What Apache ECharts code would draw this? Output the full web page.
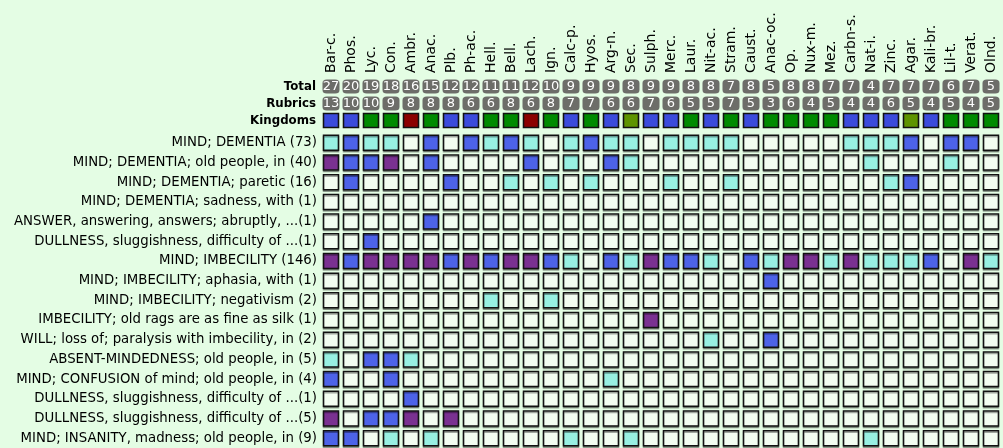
<!DOCTYPE html>
<html>
<head>
<meta charset="utf-8">
<script src="https://cdn.jsdelivr.net/npm/echarts@6/dist/echarts.min.js"></script>
<style>
html,body{margin:0;padding:0;background:#e4fde4;}
#chart{width:1003px;height:448px;}
</style>
</head>
<body>
<div id="chart"></div>
<script>
const remedies = ["Bar-c.","Phos.","Lyc.","Con.","Ambr.","Anac.","Plb.","Ph-ac.","Hell.","Bell.","Lach.","Ign.","Calc-p.","Hyos.","Arg-n.","Sec.","Sulph.","Merc.","Laur.","Nit-ac.","Stram.","Caust.","Anac-oc.","Op.","Nux-m.","Mez.","Carbn-s.","Nat-i.","Zinc.","Agar.","Kali-br.","Lil-t.","Verat.","Olnd."];
const totals = [27,20,19,18,16,15,12,12,11,11,12,10,9,9,9,8,9,9,8,8,7,8,5,8,8,7,7,4,7,7,7,6,7,5];
const rubricCounts = [13,10,10,9,8,8,8,6,6,8,6,8,7,7,6,6,7,6,5,5,7,5,3,6,4,5,4,4,6,5,4,5,4,5];
const kingdoms = ["M","M","P","P","A","P","M","M","P","P","A","P","M","P","M","F","M","M","P","M","P","M","P","P","P","P","M","M","M","F","M","P","P","P"];
const headerRows = ["Total","Rubrics","Kingdoms"];
const rubrics = [
"MIND; DEMENTIA (73)",
"MIND; DEMENTIA; old people, in (40)",
"MIND; DEMENTIA; paretic (16)",
"MIND; DEMENTIA; sadness, with (1)",
"ANSWER, answering, answers; abruptly, ...(1)",
"DULLNESS, sluggishness, difficulty of ...(1)",
"MIND; IMBECILITY (146)",
"MIND; IMBECILITY; aphasia, with (1)",
"MIND; IMBECILITY; negativism (2)",
"IMBECILITY; old rags are as fine as silk (1)",
"WILL; loss of; paralysis with imbecility, in (2)",
"ABSENT-MINDEDNESS; old people, in (5)",
"MIND; CONFUSION of mind; old people, in (4)",
"DULLNESS, sluggishness, difficulty of ...(1)",
"DULLNESS, sluggishness, difficulty of ...(5)",
"MIND; INSANITY, madness; old people, in (9)"
];
// grade per rubric row (0 none, 1, 2, 3) for each remedy column
const grades = [
[1,2,1,1,0,2,0,2,1,2,1,0,1,2,1,1,0,1,1,1,1,0,0,0,0,0,1,1,1,2,0,2,2,0],
[3,2,2,3,0,2,0,0,0,0,2,0,1,0,2,1,0,0,0,0,0,0,0,0,0,0,0,1,0,0,0,1,0,0],
[0,2,0,0,0,0,2,0,0,1,0,1,0,1,0,0,0,1,0,0,1,0,0,0,0,0,0,0,1,2,0,0,0,0],
[0,0,0,0,0,0,0,0,0,0,0,0,0,0,0,0,0,0,0,0,0,0,0,0,0,0,0,0,0,0,0,0,0,0],
[0,0,0,0,0,2,0,0,0,0,0,0,0,0,0,0,0,0,0,0,0,0,0,0,0,0,0,0,0,0,0,0,0,0],
[0,0,2,0,0,0,0,0,0,0,0,0,0,0,0,0,0,0,0,0,0,0,0,0,0,0,0,0,0,0,0,0,0,0],
[3,2,3,3,3,3,2,3,2,3,3,2,1,0,2,1,3,2,2,1,0,2,1,3,3,1,3,1,1,1,2,0,3,1],
[0,0,0,0,0,0,0,0,0,0,0,0,0,0,0,0,0,0,0,0,0,0,2,0,0,0,0,0,0,0,0,0,0,0],
[0,0,0,0,0,0,0,0,1,0,0,1,0,0,0,0,0,0,0,0,0,0,0,0,0,0,0,0,0,0,0,0,0,0],
[0,0,0,0,0,0,0,0,0,0,0,0,0,0,0,0,3,0,0,0,0,0,0,0,0,0,0,0,0,0,0,0,0,0],
[0,0,0,0,0,0,0,0,0,0,0,0,0,0,0,0,0,0,0,1,0,0,2,0,0,0,0,0,0,0,0,0,0,0],
[1,0,2,2,1,0,0,0,0,0,0,0,0,0,0,0,0,0,0,0,0,0,0,0,0,0,0,0,0,0,0,0,0,0],
[2,0,0,2,0,0,0,0,0,0,0,0,0,0,1,0,0,0,0,0,0,0,0,0,0,0,0,0,0,0,0,0,0,0],
[0,0,0,0,2,0,0,0,0,0,0,0,0,0,0,0,0,0,0,0,0,0,0,0,0,0,0,0,0,0,0,0,0,0],
[3,0,2,2,3,0,3,0,0,0,0,0,0,0,0,0,0,0,0,0,0,0,0,0,0,0,0,0,0,0,0,0,0,0],
[2,2,0,1,0,1,0,0,0,0,0,0,1,0,0,1,0,0,0,0,0,0,0,0,0,0,0,1,0,0,0,0,0,0]
];

const gradeColors = ['#f3fdf1','#98f0e2','#4d63e8','#7a3191'];
const kingdomColors = {M:'#3b4bdc', P:'#008a00', A:'#8b0000', F:'#5e9400'};
const FONT = 'DejaVu Sans';

const cellData = [];
grades.forEach((row, r) => row.forEach((g, c) => cellData.push([c, r, g])));

const chart = echarts.init(document.getElementById('chart'), null, {renderer:'canvas'});
chart.setOption({
  backgroundColor: '#e4fde4',
  animation: false,
  grid: [
    {left: 321, width: 680, top: 78, height: 51},
    {left: 321, width: 680, top: 133, height: 320}
  ],
  xAxis: [
    {gridIndex:0, type:'category', data: remedies, position:'top',
     axisLine:{show:false}, axisTick:{show:false}, splitLine:{show:false},
     axisLabel:{interval:0, rotate:-90, align:'left', verticalAlign:'middle', margin:5,
                hideOverlap:false, overflow:'none',
                color:'#000', fontFamily:FONT, fontSize:14}},
    {gridIndex:1, type:'category', data: remedies,
     axisLine:{show:false}, axisTick:{show:false}, axisLabel:{show:false}, splitLine:{show:false}}
  ],
  yAxis: [
    {gridIndex:0, type:'category', data: headerRows, inverse:true,
     axisLine:{show:false}, axisTick:{show:false}, splitLine:{show:false},
     axisLabel:{interval:0, margin:5, color:'#000', fontFamily:FONT, fontSize:11.8, fontWeight:'bold'}},
    {gridIndex:1, type:'category', data: rubrics, inverse:true,
     axisLine:{show:false}, axisTick:{show:false}, splitLine:{show:false},
     axisLabel:{interval:0, margin:4, color:'#000', fontFamily:FONT, fontSize:13.3}}
  ],
  series: [
    {type:'scatter', xAxisIndex:0, yAxisIndex:0, symbol:'roundRect', symbolSize:[17,14],
     itemStyle:{color:'#6d6d69', opacity:1},
     label:{show:true, position:'inside', color:'#fff', fontFamily:FONT, fontSize:13,
            formatter: p => p.value[2]},
     data: totals.map((v,i)=>[i,0,v])},
    {type:'scatter', xAxisIndex:0, yAxisIndex:0, symbol:'roundRect', symbolSize:[17,14],
     itemStyle:{color:'#6d6d69', opacity:1},
     label:{show:true, position:'inside', color:'#fff', fontFamily:FONT, fontSize:13,
            formatter: p => p.value[2]},
     data: rubricCounts.map((v,i)=>[i,1,v])},
    {type:'scatter', xAxisIndex:0, yAxisIndex:0, symbol:'rect', symbolSize:[15,14],
     itemStyle:{color: p => kingdomColors[p.value[2]], borderColor:'#111', borderWidth:1.5, opacity:1},
     data: kingdoms.map((k,i)=>[i,2,k])},
    {type:'scatter', xAxisIndex:1, yAxisIndex:1, symbol:'rect', symbolSize:[15,15],
     itemStyle:{color: p => gradeColors[p.value[2]], borderColor:'#111', borderWidth:1.5, opacity:1,
                shadowColor:'rgba(0,0,0,0.35)', shadowOffsetY:1.5, shadowBlur:0},
     data: cellData}
  ]
});
</script>
</body>
</html>
